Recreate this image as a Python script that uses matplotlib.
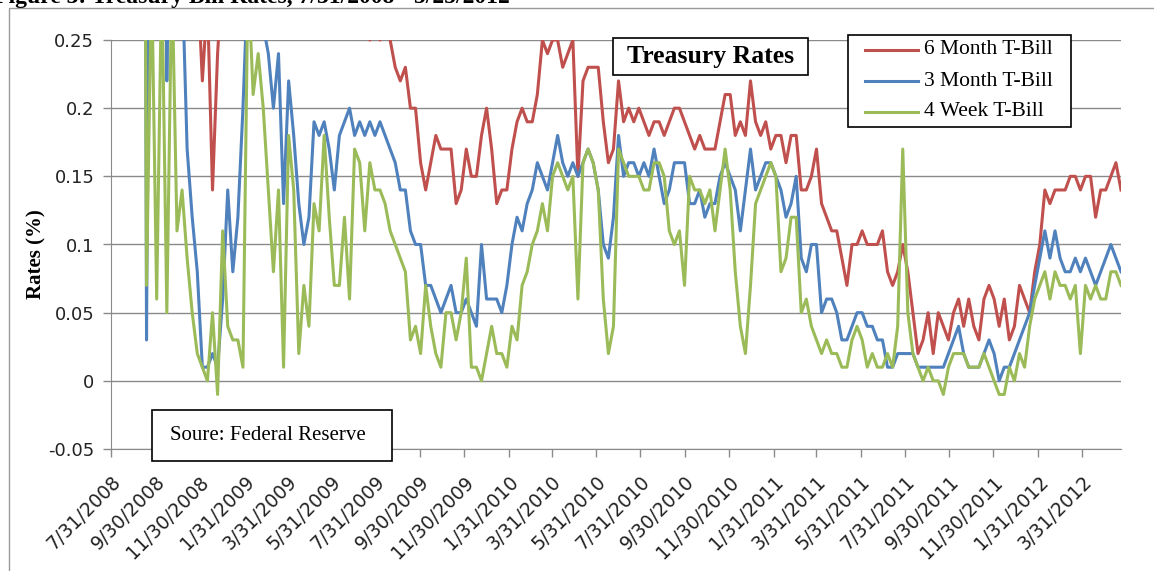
import matplotlib
matplotlib.use("Agg")
import matplotlib.pyplot as plt
import matplotlib.transforms as mtransforms
import numpy as np
import pandas as pd
from matplotlib.patches import Rectangle
from matplotlib.lines import Line2D

# weekly readings (percent), starting 7/31/2008
start_date = '2008-07-31'

six_month = [
    1.90, 1.95, 1.92, 1.85, 1.88, 1.80, 1.70, 1.00, 1.40, 1.20,
    1.00, 0.80, 0.60, 0.40, 0.40, 0.35, 0.30, 0.30, 0.22, 0.28,
    0.14, 0.24, 0.30, 0.29, 0.30, 0.32, 0.30, 0.30, 0.31, 0.33,
    0.35, 0.36, 0.38, 0.40, 0.43, 0.45, 0.45, 0.47, 0.45, 0.43,
    0.42, 0.40, 0.38, 0.36, 0.35, 0.33, 0.31, 0.30, 0.30, 0.26,
    0.26, 0.25, 0.26, 0.25, 0.26, 0.25, 0.23, 0.22, 0.23, 0.20,
    0.20, 0.16, 0.14, 0.16, 0.18, 0.17, 0.17, 0.17, 0.13, 0.14,
    0.17, 0.15, 0.15, 0.18, 0.20, 0.17, 0.13, 0.14, 0.14, 0.17,
    0.19, 0.20, 0.19, 0.19, 0.21, 0.25, 0.24, 0.25, 0.25, 0.23,
    0.24, 0.25, 0.15, 0.22, 0.23, 0.23, 0.23, 0.19, 0.16, 0.17,
    0.22, 0.19, 0.20, 0.19, 0.20, 0.19, 0.18, 0.19, 0.19, 0.18,
    0.19, 0.20, 0.20, 0.19, 0.18, 0.17, 0.18, 0.17, 0.17, 0.17,
    0.19, 0.21, 0.21, 0.18, 0.19, 0.18, 0.22, 0.19, 0.18, 0.19,
    0.17, 0.18, 0.18, 0.16, 0.18, 0.18, 0.14, 0.14, 0.15, 0.17,
    0.13, 0.12, 0.11, 0.11, 0.09, 0.07, 0.10, 0.10, 0.11, 0.10,
    0.10, 0.10, 0.11, 0.08, 0.07, 0.08, 0.10, 0.08, 0.05, 0.02,
    0.03, 0.05, 0.02, 0.05, 0.04, 0.03, 0.05, 0.06, 0.04, 0.06,
    0.04, 0.03, 0.06, 0.07, 0.06, 0.04, 0.06, 0.03, 0.04, 0.07,
    0.06, 0.05, 0.08, 0.10, 0.14, 0.13, 0.14, 0.14, 0.14, 0.15,
    0.15, 0.14, 0.15, 0.15, 0.12, 0.14, 0.14, 0.15, 0.16, 0.14,
]

three_month = [
    1.70, 1.75, 1.72, 1.68, 1.70, 1.55, 1.45, 0.03, 0.70, 0.90,
    0.80, 0.22, 0.50, 0.40, 0.30, 0.17, 0.12, 0.08, 0.01, 0.01,
    0.02, 0.01, 0.06, 0.14, 0.08, 0.12, 0.20, 0.30, 0.32, 0.28,
    0.26, 0.24, 0.20, 0.24, 0.13, 0.22, 0.18, 0.13, 0.10, 0.12,
    0.19, 0.18, 0.19, 0.17, 0.14, 0.18, 0.19, 0.20, 0.18, 0.19,
    0.18, 0.19, 0.18, 0.19, 0.18, 0.17, 0.16, 0.14, 0.14, 0.11,
    0.10, 0.10, 0.07, 0.07, 0.06, 0.05, 0.06, 0.07, 0.05, 0.05,
    0.06, 0.05, 0.04, 0.10, 0.06, 0.06, 0.06, 0.05, 0.07, 0.10,
    0.12, 0.11, 0.13, 0.14, 0.16, 0.15, 0.14, 0.16, 0.18, 0.16,
    0.15, 0.16, 0.15, 0.16, 0.17, 0.16, 0.14, 0.10, 0.09, 0.12,
    0.18, 0.15, 0.16, 0.16, 0.15, 0.16, 0.15, 0.17, 0.15, 0.13,
    0.14, 0.16, 0.16, 0.16, 0.13, 0.13, 0.14, 0.12, 0.13, 0.13,
    0.15, 0.16, 0.15, 0.14, 0.11, 0.14, 0.17, 0.14, 0.15, 0.16,
    0.16, 0.15, 0.14, 0.12, 0.13, 0.15, 0.09, 0.08, 0.10, 0.10,
    0.05, 0.06, 0.06, 0.05, 0.03, 0.03, 0.04, 0.05, 0.05, 0.04,
    0.04, 0.03, 0.03, 0.01, 0.01, 0.02, 0.02, 0.02, 0.02, 0.01,
    0.01, 0.01, 0.01, 0.01, 0.01, 0.02, 0.03, 0.04, 0.02, 0.01,
    0.01, 0.01, 0.02, 0.03, 0.02, 0.00, 0.01, 0.01, 0.02, 0.03,
    0.04, 0.05, 0.07, 0.09, 0.11, 0.09, 0.11, 0.09, 0.08, 0.08,
    0.09, 0.08, 0.09, 0.08, 0.07, 0.08, 0.09, 0.10, 0.09, 0.08,
]

four_week = [
    1.60, 1.65, 1.62, 1.55, 1.45, 1.25, 1.05, 0.07, 0.30, 0.06,
    0.30, 0.05, 0.30, 0.11, 0.14, 0.09, 0.05, 0.02, 0.01, 0.00,
    0.05, -0.01, 0.11, 0.04, 0.03, 0.03, 0.01, 0.30, 0.21, 0.24,
    0.20, 0.14, 0.08, 0.14, 0.01, 0.18, 0.14, 0.02, 0.07, 0.04,
    0.13, 0.11, 0.18, 0.12, 0.07, 0.07, 0.12, 0.06, 0.17, 0.16,
    0.11, 0.16, 0.14, 0.14, 0.13, 0.11, 0.10, 0.09, 0.08, 0.03,
    0.04, 0.02, 0.07, 0.04, 0.02, 0.01, 0.05, 0.05, 0.03, 0.05,
    0.09, 0.01, 0.01, 0.00, 0.02, 0.04, 0.02, 0.02, 0.01, 0.04,
    0.03, 0.07, 0.08, 0.10, 0.11, 0.13, 0.11, 0.15, 0.16, 0.15,
    0.14, 0.15, 0.06, 0.16, 0.17, 0.16, 0.14, 0.06, 0.02, 0.04,
    0.17, 0.16, 0.15, 0.15, 0.15, 0.14, 0.14, 0.16, 0.16, 0.15,
    0.11, 0.10, 0.11, 0.07, 0.15, 0.14, 0.14, 0.13, 0.14, 0.11,
    0.14, 0.17, 0.14, 0.08, 0.04, 0.02, 0.07, 0.13, 0.14, 0.15,
    0.16, 0.15, 0.08, 0.09, 0.12, 0.12, 0.05, 0.06, 0.04, 0.03,
    0.02, 0.03, 0.02, 0.02, 0.01, 0.01, 0.03, 0.04, 0.03, 0.01,
    0.02, 0.01, 0.01, 0.02, 0.01, 0.04, 0.17, 0.05, 0.02, 0.01,
    0.00, 0.01, 0.00, 0.00, -0.01, 0.01, 0.02, 0.02, 0.02, 0.01,
    0.01, 0.01, 0.02, 0.01, 0.00, -0.01, -0.01, 0.01, 0.00, 0.02,
    0.01, 0.04, 0.06, 0.07, 0.08, 0.06, 0.08, 0.07, 0.07, 0.06,
    0.07, 0.02, 0.07, 0.06, 0.07, 0.06, 0.06, 0.08, 0.08, 0.07,
]

series_names = ['6 Month T-Bill', '3 Month T-Bill', '4 Week T-Bill']
series_colors = ['#C0504D', '#4F81BD', '#9BBB59']

tick_labels = [
    '7/31/2008', '9/30/2008', '11/30/2008', '1/31/2009', '3/31/2009',
    '5/31/2009', '7/31/2009', '9/30/2009', '11/30/2009', '1/31/2010',
    '3/31/2010', '5/31/2010', '7/31/2010', '9/30/2010', '11/30/2010',
    '1/31/2011', '3/31/2011', '5/31/2011', '7/31/2011', '9/30/2011',
    '11/30/2011', '1/31/2012', '3/31/2012',
]
y_ticks = [-0.05, 0, 0.05, 0.1, 0.15, 0.2, 0.25]
y_tick_labels = ['-0.05', '0', '0.05', '0.1', '0.15', '0.2', '0.25']

W, H = 1154, 571
SERIF = ['Liberation Serif', 'DejaVu Serif']


def fx(x):
    return x / W


def fy(y):
    return 1 - y / H


dates = pd.date_range(start_date, periods=len(six_month), freq='7D')

fig = plt.figure(figsize=(W / 100, H / 100), dpi=100)
fig.patch.set_facecolor('white')

ax = fig.add_axes([fx(111), fy(449), fx(1121) - fx(111), fy(40) - fy(449)])

grid_c = '#8a8a8a'
for yv in y_ticks:
    ax.axhline(yv, color=grid_c, lw=1.0, zorder=1)

for vals, name, col in zip([six_month, three_month, four_week], series_names, series_colors):
    ax.plot(dates, vals, color=col, lw=2.2, label=name, zorder=3)

ax.set_ylim(-0.05, 0.25)
ax.set_xlim(dates[0], dates[-1])
ax.set_yticks(y_ticks)
ax.set_yticklabels(y_tick_labels, fontsize=13, family='DejaVu Sans', color='#222222')

tick_dates = pd.to_datetime(tick_labels, format='%m/%d/%Y')
ax.set_xticks(tick_dates)
ax.set_xticklabels(tick_labels, rotation=45, ha='right', va='top',
                   rotation_mode='anchor', fontsize=13.5, family='DejaVu Sans',
                   color='#222222')
shift = mtransforms.ScaledTranslation(4 / 100, 0, fig.dpi_scale_trans)
for lbl in ax.get_xticklabels():
    lbl.set_transform(lbl.get_transform() + shift)

for s in ['top', 'right']:
    ax.spines[s].set_visible(False)
for s in ['left', 'bottom']:
    ax.spines[s].set_color(grid_c)
ax.tick_params(axis='both', direction='out', color=grid_c, length=6, width=1)
ax.tick_params(axis='y', pad=6)
ax.tick_params(axis='x', pad=11)

# y label
fig.text(fx(36), fy(254), 'Rates (%)', rotation=90, ha='center', va='center',
         fontsize=15, fontweight='bold', family=SERIF)

# chart title box
fig.add_artist(Rectangle((fx(613), fy(75)), fx(808) - fx(613), fy(38) - fy(75),
                         transform=fig.transFigure, fc='white', ec='black', lw=1.2, zorder=5))
fig.text(fx(711), fy(57), 'Treasury Rates', ha='center', va='center', fontsize=18.5,
         fontweight='bold', family=SERIF, zorder=6)

# legend box
fig.add_artist(Rectangle((fx(848), fy(127)), fx(1071) - fx(848), fy(35) - fy(127),
                         transform=fig.transFigure, fc='white', ec='black', lw=1.2, zorder=5))
for k, (name, col) in enumerate(zip(series_names, series_colors)):
    yy = fy(50 + 31 * k)
    fig.add_artist(Line2D([fx(865), fx(918)], [yy, yy], transform=fig.transFigure,
                          color=col, lw=2.2, zorder=6))
    fig.text(fx(924), yy, name, ha='left', va='center', fontsize=15.5,
             family=SERIF, zorder=6)

# source box
fig.add_artist(Rectangle((fx(152), fy(461)), fx(392) - fx(152), fy(410) - fy(461),
                         transform=fig.transFigure, fc='white', ec='black', lw=1.2, zorder=5))
fig.text(fx(170), fy(436), 'Soure: Federal Reserve', ha='left', va='center',
         fontsize=15, family=SERIF, zorder=6)

# outer chart border
fig.add_artist(Rectangle((fx(9), -0.1), 1.2, fy(8) + 0.1, transform=fig.transFigure,
                         fill=False, ec='#9a9a9a', lw=1.0))

# caption from the page, cut off at the top edge
fig.text(fx(-6), fy(3), 'Figure 3: Treasury Bill Rates, 7/31/2008 - 5/25/2012',
         ha='left', va='baseline', fontsize=17, fontweight='bold', family=SERIF)

fig.savefig('out.png', dpi=100)
